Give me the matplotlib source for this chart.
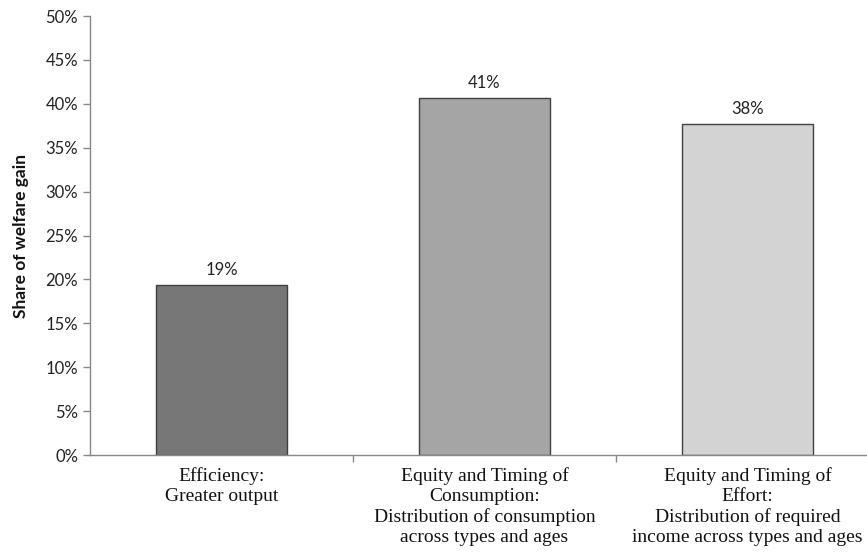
import matplotlib.pyplot as plt
from matplotlib.ticker import PercentFormatter, FixedLocator

# share of welfare gain by source (percent)
categories = [
    'Efficiency:\nGreater output',
    'Equity and Timing of\nConsumption:\nDistribution of consumption\nacross types and ages',
    'Equity and Timing of\nEffort:\nDistribution of required\nincome across types and ages',
]
shares = [19.4, 40.7, 37.7]
bar_colors = ['#777777', '#a5a5a5', '#d3d3d3']

fig = plt.figure(figsize=(8.67, 5.54), dpi=100)
ax = fig.add_axes([0.1038, 0.1787, 0.8962, 0.7924])

x = range(len(categories))
bars = ax.bar(x, shares, width=0.5, color=bar_colors, edgecolor='#404040', linewidth=1.0)

# value labels above bars
for b, v in zip(bars, shares):
    ax.annotate(f'{v:.0f}%', (b.get_x() + b.get_width() / 2, v),
                xytext=(0, 5), textcoords='offset points', ha='center', va='bottom',
                fontsize=12, family='Lato', color='#222222')

ax.set_ylim(0, 50)
ax.set_xlim(-0.5, 2.454)
ax.set_yticks(range(0, 51, 5))
ax.yaxis.set_major_formatter(PercentFormatter(decimals=0))
ax.tick_params(axis='y', labelsize=12, colors='#888888', labelcolor='#222222', length=5, width=1)
for lbl in ax.get_yticklabels():
    lbl.set_family('Lato')

# category names sit under the bars, ticks at the boundaries
ax.set_xticks(list(x))
ax.set_xticklabels(categories, family='Liberation Serif', fontsize=14, color='#111111',
                   linespacing=1.22)
ax.tick_params(axis='x', length=0, pad=9)
ax.xaxis.set_minor_locator(FixedLocator([0.5, 1.5]))
ax.tick_params(axis='x', which='minor', length=5, width=1, colors='#888888')

for side in ['top', 'right']:
    ax.spines[side].set_visible(False)
for side in ['left', 'bottom']:
    ax.spines[side].set_color('#888888')
    ax.spines[side].set_linewidth(1)

ax.set_ylabel('Share of welfare gain', family='Lato', fontsize=12.5, fontweight='bold',
              color='#111111', labelpad=12)

fig.savefig('out.png', dpi=100)
